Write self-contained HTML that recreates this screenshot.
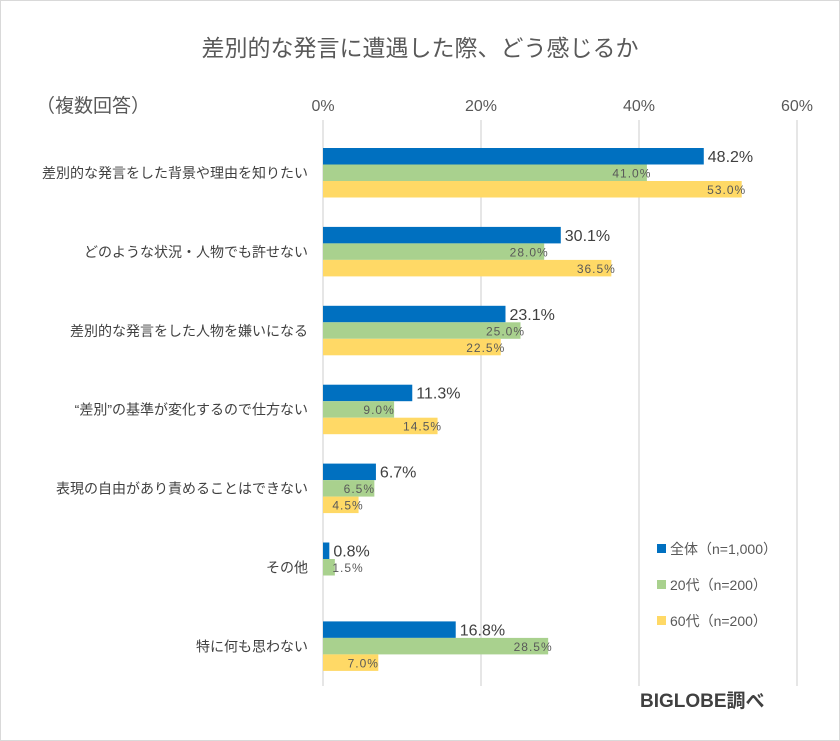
<!DOCTYPE html>
<html><head><meta charset="utf-8"><style>
body{margin:0;background:#fff}
svg{display:block;font-family:"Liberation Sans","Noto Sans CJK JP",sans-serif}
</style></head><body>
<svg width="840" height="741" viewBox="0 0 840 741">
<rect x="0.5" y="0.5" width="839" height="740" fill="#fff" stroke="#d9d9d9"/>
<text x="420" y="56" text-anchor="middle" font-size="23" fill="#595959">差別的な発言に遭遇した際、どう感じるか</text>
<text x="36" y="112" font-size="19" fill="#595959">（複数回答）</text>
<g id="grid"></g><g id="bars"></g><g id="labels"></g>
<g>
<rect x="657" y="544" width="9" height="9" fill="#0070c0"/>
<text x="670" y="554" font-size="14" fill="#595959">全体（n=1,000）</text>
<rect x="657" y="580" width="9" height="9" fill="#a9d18e"/>
<text x="670" y="590" font-size="14" fill="#595959">20代（n=200）</text>
<rect x="657" y="616" width="9" height="9" fill="#ffd966"/>
<text x="670" y="626" font-size="14" fill="#595959">60代（n=200）</text>
</g>
<text x="640" y="707" font-size="19" font-weight="bold" fill="#404040">BIGLOBE調べ</text>
</svg>
<script>
const categories=["差別的な発言をした背景や理由を知りたい","どのような状況・人物でも許せない","差別的な発言をした人物を嫌いになる","“差別”の基準が変化するので仕方ない","表現の自由があり責めることはできない","その他","特に何も思わない"];
const allValues=[48.2,30.1,23.1,11.3,6.7,0.8,16.8];
const age20Values=[41.0,28.0,25.0,9.0,6.5,1.5,28.5];
const age60Values=[53.0,36.5,22.5,14.5,4.5,0,7.0];
const ticks=[0,20,40,60];
const NS="http://www.w3.org/2000/svg";
const x=v=>323+v*7.9;
const y0=i=>148+i*78.9;
function mk(t,a,p){const e=document.createElementNS(NS,t);for(const k in a)e.setAttribute(k,a[k]);document.getElementById(p).appendChild(e);return e;}
ticks.forEach(t=>{
 const l=mk('line',{x1:x(t),x2:x(t),y1:120,y2:686,stroke:'#d9d9d9','stroke-width':1.3},'grid');
 
 
 const tx=mk('text',{x:x(t),y:111,'text-anchor':'middle','font-size':16,fill:'#595959'},'grid');tx.textContent=t+'%';
 
 
});
const series=[[allValues,'#0070c0','all'],[age20Values,'#a9d18e','20s'],[age60Values,'#ffd966','60s']];
categories.forEach((c,i)=>{
 const ct=mk('text',{x:308,y:y0(i)+30,'text-anchor':'end','font-size':14,fill:'#404040'},'labels');ct.textContent=c;
 
 
 series.forEach(([vals,col,nm],s)=>{
  const v=vals[i];const yy=y0(i)+s*16.5;
  if(s===2&&i===5)return;
  const r=mk('rect',{x:323,y:yy,width:Math.max(0,x(v)-323),height:16.5,fill:col},'bars');
  
  
  let t;
  if(s===0){t=mk('text',{x:x(v)+4,y:yy+14,'font-size':16,fill:'#404040'},'labels');}
  else{t=mk('text',{x:Math.max(x(v)-15,348),y:yy+13,'text-anchor':'middle','font-size':12,fill:'#595959','letter-spacing':'1'},'labels');}
  t.textContent=v.toFixed(1)+'%';
  
  
 });
});
</script>
</body></html>
